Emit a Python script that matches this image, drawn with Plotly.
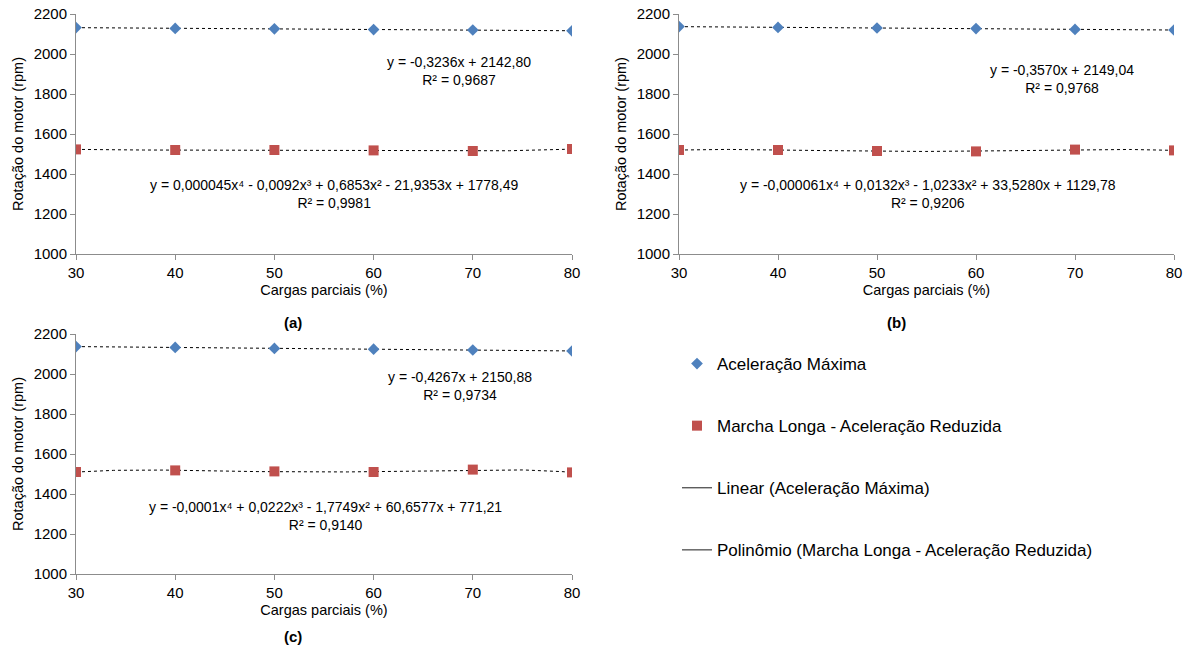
import numpy as np
import plotly.graph_objects as go

W, H = 1187, 651

# Engine speed (rpm) versus partial load (%) for three test configurations
cargas = [30, 40, 50, 60, 70, 80]

acel_max_a = [2132, 2128, 2126, 2122, 2120, 2116]
marcha_a = [1523, 1520, 1520, 1518, 1515, 1525]

acel_max_b = [2137, 2133, 2130, 2127, 2123, 2120]
marcha_b = [1520, 1520, 1515, 1513, 1522, 1518]

acel_max_c = [2137, 2133, 2128, 2124, 2120, 2115]
marcha_c = [1510, 1518, 1513, 1510, 1522, 1508]

eq_lin = ["y = -0,3236x + 2142,80<br>R² = 0,9687",
          "y = -0,3570x + 2149,04<br>R² = 0,9768",
          "y = -0,4267x + 2150,88<br>R² = 0,9734"]
eq_poly = ["y = 0,000045x⁴ - 0,0092x³ + 0,6853x² - 21,9353x + 1778,49<br>R² = 0,9981",
           "y = -0,000061x⁴ + 0,0132x³ - 1,0233x² + 33,5280x + 1129,78<br>R² = 0,9206",
           "y = -0,0001x⁴ + 0,0222x³ - 1,7749x² + 60,6577x + 771,21<br>R² = 0,9140"]
panel_labels = ["(a)", "(b)", "(c)"]

BLUE = "#4F81BD"
RED = "#C0504D"
FONT = "Liberation Sans, Arial, sans-serif"


def px(x):
    return x / W


def py(y):
    return 1 - y / H


# panel boxes in pixels: (left, right, top, bottom)
boxes = [(76, 572, 14, 254), (679, 1174, 14, 254), (76, 572, 334, 574)]
# equation positions (x centre, y centre) in pixels
lin_pos = [(459, 71), (1062, 79), (460, 386)]
poly_pos = [(334, 194), (928, 194), (325, 516)]
label_pos = [(293, 322), (896, 322), (293, 636)]

series = [(acel_max_a, marcha_a), (acel_max_b, marcha_b), (acel_max_c, marcha_c)]

fig = go.Figure()
xs = np.linspace(30, 80, 200)

for i, (blue, red) in enumerate(series):
    xa = "x" if i == 0 else f"x{i+1}"
    ya = "y" if i == 0 else f"y{i+1}"
    lin = np.polyval(np.polyfit(cargas, blue, 1), xs)
    poly = np.polyval(np.polyfit(cargas, red, 4), xs)
    fig.add_trace(go.Scatter(x=xs, y=lin, mode="lines", xaxis=xa, yaxis=ya,
                             line=dict(color="black", width=1, dash="dot"),
                             showlegend=False, hoverinfo="skip"))
    fig.add_trace(go.Scatter(x=xs, y=poly, mode="lines", xaxis=xa, yaxis=ya,
                             line=dict(color="black", width=1, dash="dot"),
                             showlegend=False, hoverinfo="skip"))
    fig.add_trace(go.Scatter(x=cargas, y=blue, mode="markers", xaxis=xa, yaxis=ya,
                             name="Aceleração Máxima", legendgroup="g1",
                             showlegend=(i == 0),
                             marker=dict(symbol="diamond", size=9, color=BLUE)))
    fig.add_trace(go.Scatter(x=cargas, y=red, mode="markers", xaxis=xa, yaxis=ya,
                             name="Marcha Longa - Aceleração Reduzida", legendgroup="g2",
                             showlegend=(i == 0),
                             marker=dict(symbol="square", size=10, color=RED)))

# legend entries for the trend lines
fig.add_trace(go.Scatter(x=[None], y=[None], mode="lines", name="Linear (Aceleração Máxima)",
                         legendgroup="g3", line=dict(color="#404040", width=1.2)))
fig.add_trace(go.Scatter(x=[None], y=[None], mode="lines",
                         name="Polinômio (Marcha Longa - Aceleração Reduzida)",
                         legendgroup="g4", line=dict(color="#404040", width=1.2)))

axis_common = dict(showgrid=False, zeroline=False, showline=True, linecolor="#8c8c8c",
                   linewidth=1, ticks="outside", ticklen=5, tickcolor="#8c8c8c",
                   automargin=False,
                   tickfont=dict(family=FONT, size=15, color="black"))

layout = dict(width=W, height=H, margin=dict(l=0, r=0, t=0, b=0),
              template="none",
              paper_bgcolor="white", plot_bgcolor="white",
              font=dict(family=FONT, color="black"),
              showlegend=True,
              legend=dict(x=px(677), y=py(346), xanchor="left", yanchor="top",
                          font=dict(family=FONT, size=17, color="black"),
                          traceorder="grouped", tracegroupgap=37,
                          bgcolor="rgba(0,0,0,0)", itemwidth=30))

annotations = []
for i, (l, r, t, b) in enumerate(boxes):
    sx = "" if i == 0 else str(i + 1)
    layout[f"xaxis{sx}"] = dict(axis_common, domain=[px(l), px(r)], range=[30, 80],
                                tickvals=cargas, anchor=f"y{sx}",
                                title=dict(text="Cargas parciais (%)",
                                           font=dict(family=FONT, size=14.5), standoff=4))
    layout[f"yaxis{sx}"] = dict(axis_common, domain=[py(b), py(t)], range=[1000, 2200],
                                dtick=200, anchor=f"x{sx}",
                                title=dict(text="Rotação do motor (rpm)",
                                           font=dict(family=FONT, size=14.5), standoff=6))
    for txt, (cx, cy) in ((eq_lin[i], lin_pos[i]), (eq_poly[i], poly_pos[i])):
        annotations.append(dict(x=px(cx), y=py(cy), xref="paper", yref="paper",
                                text=txt, showarrow=False, align="center",
                                xanchor="center", yanchor="middle",
                                font=dict(family=FONT, size=14, color="black")))
    annotations.append(dict(x=px(label_pos[i][0]), y=py(label_pos[i][1]), xref="paper",
                            yref="paper", text=f"<b>{panel_labels[i]}</b>", showarrow=False,
                            xanchor="center", yanchor="middle",
                            font=dict(family=FONT, size=15, color="black")))

layout["annotations"] = annotations
fig.update_layout(**layout)

fig.write_html("out.html")
